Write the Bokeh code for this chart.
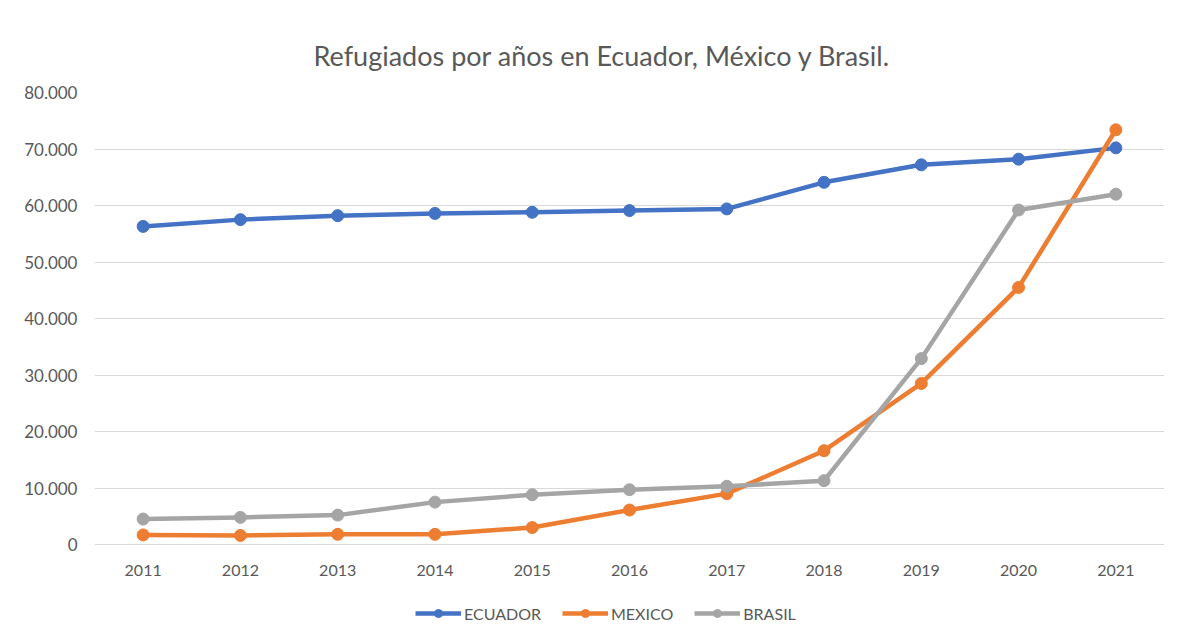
from bokeh.plotting import figure
from bokeh.models import (Legend, LegendItem, FixedTicker, CustomJSTickFormatter, Range1d)
from bokeh.core.properties import value
from bokeh.embed import file_html
from bokeh.resources import INLINE

# ---- data ----
years = [2011, 2012, 2013, 2014, 2015, 2016, 2017, 2018, 2019, 2020, 2021]
year_labels = [str(y) for y in years]
ecuador = [56300, 57500, 58200, 58600, 58800, 59100, 59400, 64100, 67200, 68200, 70200]
mexico = [1700, 1600, 1800, 1800, 3000, 6100, 9000, 16600, 28500, 45500, 73400]
brasil = [4500, 4800, 5200, 7500, 8800, 9700, 10300, 11300, 32900, 59200, 62000]
y_ticks = [0, 10000, 20000, 30000, 40000, 50000, 60000, 70000, 80000]
title_text = "Refugiados por años en Ecuador, México y Brasil."
series_names = ["ECUADOR", "MEXICO", "BRASIL"]
colors = ["#4472C4", "#ED7D31", "#A5A5A5"]

FONT = "Lato"
TXT = "#595959"
GRID = "#D9D9D9"

# layout (pixels)
W, H = 1192, 638
TOP, LEFT, RIGHT = 92, 94, 28
ZERO_PX = 544                      # where value 0 sits
units_per_px = 80000 / (ZERO_PX - TOP)
y_min = -(H - ZERO_PX) * units_per_px

p = figure(width=W, height=H, output_backend="svg", toolbar_location=None,
           x_range=Range1d(2010.5, 2021.5), y_range=Range1d(y_min, 80000),
           x_axis_location=None,
           min_border_left=LEFT, min_border_right=RIGHT, min_border_top=TOP, min_border_bottom=0)

p.outline_line_color = None
p.background_fill_color = "white"
p.border_fill_color = "white"

p.title.text = title_text
p.title.align = "left"
p.title.offset = 219
p.title.text_font = FONT
p.title.text_font_size = "27px"
p.title.text_font_style = "normal"
p.title.text_color = TXT
p.title.standoff = 41

# y axis
p.yaxis.ticker = FixedTicker(ticks=y_ticks)
p.yaxis.formatter = CustomJSTickFormatter(code="""
    return String(Math.round(tick)).replace(/\\B(?=(\\d{3})+(?!\\d))/g, '.');
""")
p.yaxis.axis_line_color = None
p.yaxis.major_tick_line_color = None
p.yaxis.minor_tick_line_color = None
p.yaxis.major_label_text_font = FONT
p.yaxis.major_label_text_font_size = "17px"
p.yaxis.major_label_text_color = TXT
p.yaxis.major_label_standoff = 11

p.xgrid.grid_line_color = None
p.ygrid.grid_line_color = GRID
p.ygrid.grid_line_width = 1

# category (year) labels under the zero line
p.text(x=years, y=[-26 * units_per_px] * len(years), text=year_labels,
       text_font=value(FONT), text_font_size="16px", text_color=TXT,
       text_align="center", text_baseline="middle")

items = []
for name, vals, c in zip(series_names, [ecuador, mexico, brasil], colors):
    ln = p.line(years, vals, line_color=c, line_width=4.5, line_join="round")
    sc = p.scatter(years, vals, size=12, fill_color=c, line_color=c)
    items.append(LegendItem(label=name, renderers=[ln, sc]))

legend = Legend(items=items, orientation="horizontal", location=(321, 15),
                glyph_width=46, glyph_height=20, label_standoff=3, spacing=21,
                padding=0, margin=0, border_line_color=None, background_fill_alpha=0,
                label_text_font=FONT, label_text_font_size="16px", label_text_color=TXT)
p.add_layout(legend, "center")

open("out.html", "w").write(file_html(p, INLINE))
